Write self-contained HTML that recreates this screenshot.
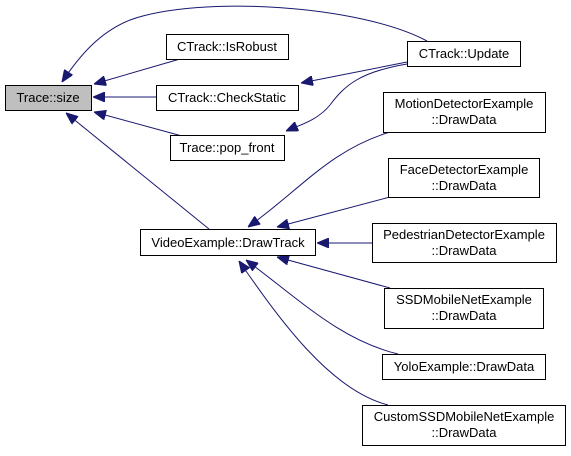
<!DOCTYPE html>
<html><head><style>
body{margin:0;background:#fff;width:571px;height:451px;overflow:hidden}
svg text{font-family:"Liberation Sans",sans-serif;font-size:13px;fill:#000}
</style></head><body>
<svg width="571" height="451" viewBox="0 0 571 451" xmlns="http://www.w3.org/2000/svg">
<defs><marker id="a" markerWidth="12" markerHeight="10" refX="12" refY="5" orient="auto" markerUnits="userSpaceOnUse">
<path d="M0,0 L12,5 L0,10 z" fill="#191970" stroke="#191970"/></marker></defs>
<g fill="none" stroke="#191970" stroke-width="1">
<path d="M427,41 C360,5 200,-5 130,20 C100,32 80,55 62,82" marker-end="url(#a)"/>
<path d="M180,59 L94,84" marker-end="url(#a)"/>
<path d="M156,97 L93,97" marker-end="url(#a)"/>
<path d="M182,136 L94,112" marker-end="url(#a)"/>
<path d="M209,229 L66,113" marker-end="url(#a)"/>
<path d="M407,62 L301,83" marker-end="url(#a)"/>
<path d="M407,64 C360,72 345,85 330,105 C318,120 300,125 286,131" marker-end="url(#a)"/>
<path d="M390,132 C330,150 300,190 248,227" marker-end="url(#a)"/>
<path d="M390,197 L277,227" marker-end="url(#a)"/>
<path d="M372,243 L317,243" marker-end="url(#a)"/>
<path d="M390,288 L277,257" marker-end="url(#a)"/>
<path d="M398,354 C340,340 300,300 246,260" marker-end="url(#a)"/>
<path d="M388,405 C330,390 280,320 239,261" marker-end="url(#a)"/>
</g>
<g stroke="#000" stroke-width="1">
<rect x="5.5" y="85.5" width="86" height="25" fill="#bfbfbf"/>
<rect x="166.5" y="34.5" width="122" height="25" fill="#fff"/>
<rect x="156.5" y="85.5" width="142" height="25" fill="#fff"/>
<rect x="170.5" y="135.5" width="114" height="25" fill="#fff"/>
<rect x="140.5" y="229.5" width="175" height="26" fill="#fff"/>
<rect x="407.5" y="41.5" width="113" height="25" fill="#fff"/>
<rect x="383.5" y="92.5" width="162" height="40" fill="#fff"/>
<rect x="388.5" y="158.5" width="151" height="39" fill="#fff"/>
<rect x="372.5" y="223.5" width="184" height="39" fill="#fff"/>
<rect x="384.5" y="288.5" width="159" height="40" fill="#fff"/>
<rect x="382.5" y="354.5" width="163" height="25" fill="#fff"/>
<rect x="362.5" y="405.5" width="203" height="40" fill="#fff"/>
</g>
<g text-anchor="middle">
<text x="48" y="102">Trace::size</text>
<text x="227" y="51">CTrack::IsRobust</text>
<text x="227" y="102">CTrack::CheckStatic</text>
<text x="227" y="152">Trace::pop_front</text>
<text x="228" y="247">VideoExample::DrawTrack</text>
<text x="464" y="58">CTrack::Update</text>
<text x="464" y="108">MotionDetectorExample</text><text x="464" y="124">::DrawData</text>
<text x="464" y="174">FaceDetectorExample</text><text x="464" y="190">::DrawData</text>
<text x="464" y="239">PedestrianDetectorExample</text><text x="464" y="255">::DrawData</text>
<text x="464" y="304">SSDMobileNetExample</text><text x="464" y="320">::DrawData</text>
<text x="464" y="371">YoloExample::DrawData</text>
<text x="464" y="421">CustomSSDMobileNetExample</text><text x="464" y="437">::DrawData</text>
</g>
</svg>
</body></html>
